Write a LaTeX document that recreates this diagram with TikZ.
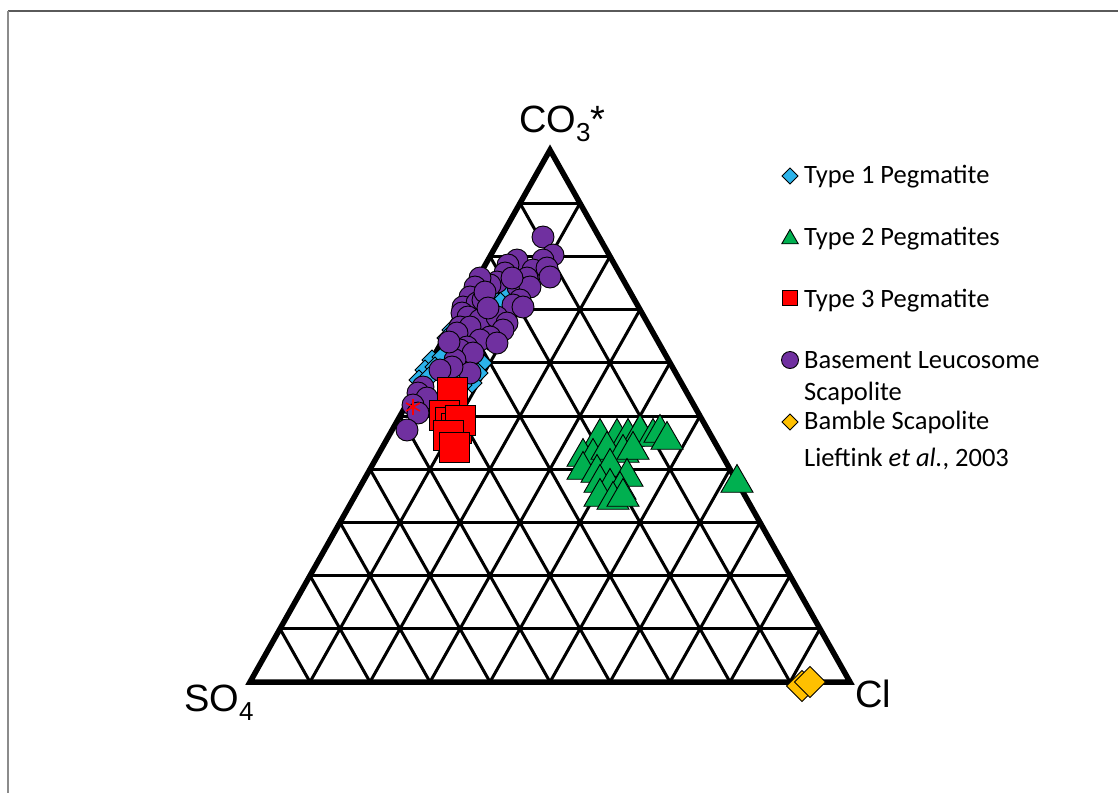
\documentclass[tikz,border=0pt]{standalone}
\usepackage{fontspec}
\setmainfont{Carlito}
\newfontfamily\axisfont{Liberation Sans}
\usetikzlibrary{shapes.geometric, calc, positioning}
\definecolor{pegblue}{HTML}{2CB3EA}
\definecolor{peggreen}{HTML}{00B050}
\definecolor{pegred}{HTML}{FF0000}
\definecolor{leucopurple}{HTML}{7030A0}
\definecolor{bamblegold}{HTML}{FFC000}
\definecolor{framegray}{HTML}{5A5A5A}

\newcommand{\chemsub}[1]{\raisebox{-9pt}{\fontsize{26pt}{26pt}\selectfont #1}}

\begin{document}
\begin{tikzpicture}[x=1pt, y=-1pt,
  outer/.style={line width=5.5pt, line join=miter},
  grid/.style={line width=3pt},
  mk/.style={draw=black, line width=0.9pt, inner sep=0pt, outer sep=0pt},
  pegone/.style={mk, diamond, fill=pegblue, minimum width=#1, minimum height=#1},
  pegone/.default=20pt,
  pegtwo/.style={mk, regular polygon, regular polygon sides=3, fill=peggreen, minimum size=#1},
  pegtwo/.default=37pt,
  pegthree/.style={mk, rectangle, fill=pegred, minimum size=#1},
  pegthree/.default=30pt,
  leuco/.style={mk, circle, fill=leucopurple, minimum size=#1},
  leuco/.default=22pt,
  bamble/.style={mk, diamond, fill=bamblegold, minimum width=#1, minimum height=#1},
  bamble/.default=31pt,
  apexlabel/.style={font=\axisfont\fontsize{38pt}{38pt}\selectfont, inner sep=0pt, anchor=base west},
  keytext/.style={font=\fontsize{26.5pt}{30pt}\selectfont, inner sep=0pt, anchor=base west}]

  \fill[white] (0,0) rectangle (1118,793);
  \useasboundingbox (0,0) rectangle (1118,793);
  \draw[framegray, line width=1.8pt] (8,11) -- (1118,11);
  \draw[framegray!70, line width=1.8pt] (8,11) -- (8,793);

  % corners of the ternary plot
  \coordinate (A) at (550,150);
  \coordinate (L) at (250,682);
  \coordinate (R) at (850,682);

  % 10 % grid
  \foreach \i in {1,...,9} {
    \draw[grid] ($(L)!\i/10!(A)$) -- ($(R)!\i/10!(A)$);
    \draw[grid] ($(L)!\i/10!(R)$) -- ($(A)!\i/10!(R)$);
    \draw[grid] ($(L)!\i/10!(R)$) -- ($(L)!\i/10!(A)$);
  }
  \draw[outer] (A) -- (L) -- (R) -- cycle;

  % apex labels
  \node[apexlabel] (co3) at (519,132) {CO\chemsub{3}*};
  \node[apexlabel] (so4) at (184,711) {SO\chemsub{4}};
  \node[apexlabel] (cl)  at (855,707) {Cl};

  % type 1 pegmatite
  \foreach \x/\y [count=\i] in {497/302, 493/308, 503/300, 510/292, 452/330, 447/338,
      432/360, 425/370, 419/380, 482/363, 478/373, 472/383, 465/377, 442/357,
      435/367, 429/377, 458/345, 472/352, 488/340, 520/290, 462/385}
    \node[pegone] (t1-\i) at (\x,\y) {};

  % basement leucosome scapolite
  \foreach \x/\y [count=\i] in {543/237, 553/255, 543/260, 517/260, 508/265, 533/270,
      547/268, 550/277, 527/278, 505/273, 497/282, 490/285, 480/278, 475/287,
      518/287, 530/287, 520/300, 470/297, 463/307, 477/303, 483/300, 513/305,
      523/307, 462/313, 468/317, 480/320, 497/317, 507/323, 503/330, 460/327,
      470/327, 490/337, 480/340, 457/333, 467/347, 497/343, 460/350, 473/353,
      455/360, 470/373, 452/367, 440/370, 423/387, 418/393, 427/398, 413/405,
      418/413, 407/430, 485/292, 512/278, 449/342, 488/308}
    \node[leuco] (bl-\i) at (\x,\y) {};

  % type 3 pegmatite
  \foreach \x/\y [count=\i] in {452/392, 444/415, 450/422, 456/428, 460/420,
      448/435, 454/447}
    \node[pegthree] (t3-\i) at (\x,\y) {};
  \node (star) at (413,407) {};
  \foreach \a in {90,210,330}
    \draw[pegred, line width=1.6pt] (star.center) ++(\a:-8) -- ++(\a:16);

  % type 2 pegmatites
  \foreach \x/\y [count=\i] in {600/437, 617/437, 628/437, 640/433, 653/437,
      660/433, 667/440, 583/457, 593/457, 607/450, 623/453, 633/450, 583/470,
      597/473, 610/467, 627/477, 600/483, 610/487, 620/490, 600/497, 613/500,
      623/497, 737/483}
    \node[pegtwo] (t2-\i) at (\x,\y) {};

  % bamble scapolite
  \node[bamble] (bs-1) at (802,686) {};
  \node[bamble] (bs-2) at (810,682) {};

  % key
  \node[pegone=16pt]   (k1) at (790,176) {};
  \node[pegtwo=19pt]   (k2) at (790,239) {};
  \node[pegthree=15pt] (k3) at (790,298) {};
  \node[leuco=17pt]    (k4) at (790,360) {};
  \node[bamble=16pt]   (k5) at (790,422) {};
  \node[keytext] (k1t) at (804,183) {Type 1 Pegmatite};
  \node[keytext] (k2t) at (804,245) {Type 2 Pegmatites};
  \node[keytext] (k3t) at (804,307) {Type 3 Pegmatite};
  \node[keytext] (k4t) at (804,368) {Basement Leucosome};
  \node[keytext] (k4u) at (804,400) {Scapolite};
  \node[keytext] (k5t) at (804,429) {Bamble Scapolite};
  \node[keytext] (k6t) at (804,466) {Lieftink \textit{et al.}, 2003};
\end{tikzpicture}
\end{document}
